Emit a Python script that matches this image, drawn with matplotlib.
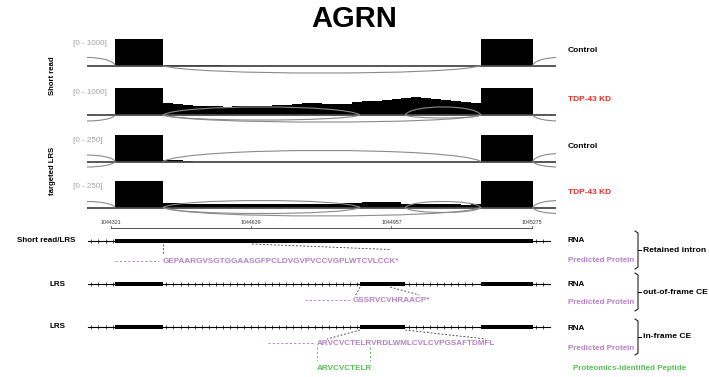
import numpy as np
import matplotlib
matplotlib.use("Agg")
import matplotlib.pyplot as plt
from matplotlib.path import Path
from matplotlib.patches import PathPatch, Rectangle

plt.rcParams['font.family'] = ['Liberation Sans', 'DejaVu Sans']

W, H = 709, 377
fig = plt.figure(figsize=(W / 100, H / 100), dpi=100)

# ---------------- data ----------------
gene = "AGRN"
view_start, view_end = 1044267, 1045330
tx_start, tx_end = 1044269, 1045317
exon1 = (1044331, 1044439)
cryptic_exon = (1044886, 1044988)
exon2 = (1045160, 1045277)
ruler_ticks = [1044321, 1044639, 1044957, 1045275]

track_names = ["Control", "TDP-43 KD", "Control", "TDP-43 KD"]
track_colors = ["black", "#ee2a2a", "black", "#ee2a2a"]
track_ranges = [1000, 1000, 250, 250]
track_groups = ["Short read", "targeted LRS"]
exon_cov = [1000, 1000, 250, 250]

# intron coverage (32 equal bins between exon1 end and exon2 start)
intron_sr_ctrl = [22, 16, 12, 8, 6, 4, 0, 0, 0, 0, 0, 0, 0, 0, 0, 0,
                  0, 0, 0, 0, 0, 0, 0, 0, 0, 0, 0, 0, 0, 0, 0, 0]
intron_sr_kd = [440, 400, 370, 345, 330, 320, 305, 320, 335, 325, 340, 355,
                375, 410, 440, 430, 415, 400, 410, 470, 500, 525, 545, 570,
                625, 655, 640, 600, 565, 520, 480, 450]
intron_lrs_ctrl = [14, 10, 6, 0, 0, 0, 0, 0, 0, 0, 0, 0, 0, 0, 0, 0,
                   0, 0, 0, 0, 0, 0, 0, 0, 0, 0, 0, 0, 0, 0, 0, 0]
intron_lrs_kd = [40, 38, 36, 35, 34, 35, 33, 32, 34, 35, 33, 32, 33, 34, 36, 35,
                 34, 36, 38, 40, 50, 52, 50, 48, 36, 33, 31, 30, 30, 29, 28, 30]
intron_cov = [intron_sr_ctrl, intron_sr_kd, intron_lrs_ctrl, intron_lrs_kd]

# splice junctions: (donor, acceptor, arc height in track units; negative = below)
up_junc = 1044200
down_junc = 1045400
junctions = [
    [(up_junc, exon1[0], 300), (exon1[1], exon2[0], -280), (exon2[1], down_junc, 300)],
    [(up_junc, exon1[0], -220), (exon1[1], cryptic_exon[0], 296),
     (exon1[1], cryptic_exon[0], -185), (cryptic_exon[1], exon2[0], 296),
     (cryptic_exon[1], exon2[0], -110), (exon1[1], exon2[0], -260),
     (exon2[1], down_junc, -220)],
    [(up_junc, exon1[0], 61), (up_junc, exon1[0], -52), (exon1[1], exon2[0], 104),
     (exon2[1], down_junc, 75), (exon2[1], down_junc, -52)],
    [(up_junc, exon1[0], 57), (exon1[1], cryptic_exon[0], 66),
     (exon1[1], cryptic_exon[0], -57), (cryptic_exon[1], exon2[0], 57),
     (cryptic_exon[1], exon2[0], -47), (exon1[1], exon2[0], -80),
     (exon2[1], down_junc, 66), (exon2[1], down_junc, -57)],
]

protein_ri = "GEPAARGVSGTGGAASGFPCLDVGVPVCCVGPLWTCVLCCK*"
protein_oof = "GSSRVCVHRAACP*"
protein_if = "ARVCVCTELRVRDLWMLCVLCVPGSAFTDMFL"
peptide = "ARVCVCTELR"
row_labels = ["Short read/LRS", "LRS", "LRS"]
row_types = ["Retained intron", "out-of-frame CE", "in-frame CE"]

PURPLE = "#b480c8"
GREEN = "#55c255"


def frac(x, y, w, h):
    """Pixel box (origin top-left) -> figure fraction rect."""
    return [x / W, 1 - (y + h) / H, w / W, h / H]


# full-figure overlay in pixel units for free labels
ov = fig.add_axes([0, 0, 1, 1])
ov.set_xlim(0, W)
ov.set_ylim(H, 0)
ov.axis('off')

ov.text(354, 19, gene, ha='center', va='center', fontsize=21, fontweight='bold')


def draw_arc(ax, s, e, h, color='#8a8a8a', lw=0.8):
    L = e - s
    c = h / 0.75
    verts = [(s, 0), (s + 0.08 * L, c), (e - 0.08 * L, c), (e, 0)]
    codes = [Path.MOVETO, Path.CURVE4, Path.CURVE4, Path.CURVE4]
    ax.add_patch(PathPatch(Path(verts, codes), fill=False, ec=color, lw=lw, zorder=3))


# ---------------- coverage / sashimi tracks ----------------
track_top = [38.5, 87.7, 135, 181]
track_base = [65.5, 115, 161.5, 207.5]
below_px = 16
bins = np.linspace(exon1[1], exon2[0], len(intron_sr_kd) + 1)
for i in range(4):
    top, base = track_top[i], track_base[i]
    hpx = base - top
    rng = track_ranges[i]
    ax = fig.add_axes(frac(87, top, 469, hpx + below_px))
    ax.set_xlim(view_start, view_end)
    ax.set_ylim(-below_px / hpx * rng, rng)
    ax.axis('off')
    edges = np.concatenate([[view_start, exon1[0]], bins, [exon2[1], view_end]])
    vals = np.concatenate([[0, exon_cov[i]], intron_cov[i], [exon_cov[i], 0]])
    ax.stairs(vals, edges, fill=True, color='black', baseline=0, zorder=2)
    ax.axhline(0, color='#4a4a4a', lw=1.3, zorder=2.5)
    for s, e, h in junctions[i]:
        draw_arc(ax, s, e, h)
    ov.text(73, top + 5, f"[0 - {rng}]", ha='left', va='center', fontsize=5.8,
            color='#a0a0a0')
    ov.text(568, top + 12, track_names[i], ha='left', va='center', fontsize=6,
            fontweight='bold', color=track_colors[i])

ov.text(53, 76, track_groups[0], rotation=90, ha='center', va='center',
        fontsize=5.6, fontweight='bold')
ov.text(53, 171, track_groups[1], rotation=90, ha='center', va='center',
        fontsize=5.6, fontweight='bold')

# ---------------- transcript models ----------------
gx = fig.add_axes(frac(87, 215, 469, 162))
gx.set_xlim(view_start, view_end)
gx.set_ylim(377, 215)
gx.axis('off')

# ruler
gx.plot([ruler_ticks[0], ruler_ticks[-1]], [228, 228], color='#555555', lw=0.7)
for t in ruler_ticks:
    gx.plot([t, t], [228, 225.5], color='#555555', lw=0.6)
    gx.text(t, 224.5, str(t), ha='center', va='bottom', fontsize=3.8, color='#333333')


def draw_transcript(y, blocks):
    gx.plot([tx_start, tx_end], [y, y], color='black', lw=0.8, zorder=2)
    for s, e in blocks:
        gx.add_patch(Rectangle((s, y - 2.2), e - s, 4.4, color='black', lw=0, zorder=3))
    gaps = [(tx_start, blocks[0][0])] + \
        [(blocks[k][1], blocks[k + 1][0]) for k in range(len(blocks) - 1)] + \
        [(blocks[-1][1], tx_end)]
    for s, e in gaps:
        pos = np.arange(s + 8, e - 4, 16)
        gx.vlines(pos, y - 1.8, y + 1.8, color='black', lw=0.5, zorder=2)


dash = dict(color='#333333', lw=0.6, ls=(0, (2.2, 2.2)))
pdash = dict(color=PURPLE, lw=0.7, ls=(0, (2.2, 2.2)))
gdash = dict(color=GREEN, lw=0.7, ls=(0, (2.2, 2.2)))
ptext = dict(color=PURPLE, fontsize=5.9, fontweight='bold', ha='left', va='center')

# row 1: retained intron
y1 = 241
draw_transcript(y1, [(exon1[0], exon2[1])])
gx.plot([exon1[1], exon1[1]], [244, 255], **dash)
gx.plot([1044641, 1044954], [244, 249.5], **dash)
gx.plot([1044330, 1044430], [261, 261], **pdash)
gx.text(exon1[1], 261, protein_ri, **ptext)

# row 2: out-of-frame cryptic exon
y2 = 284
draw_transcript(y2, [exon1, cryptic_exon, exon2])
gx.plot([cryptic_exon[0], 1044876], [287, 295], **dash)
gx.plot([1044954, 1045020], [287, 295], **dash)
gx.plot([1044761, 1044862], [300, 300], **pdash)
gx.text(1044870, 300, protein_oof, **ptext)

# row 3: in-frame cryptic exon
y3 = 327
draw_transcript(y3, [exon1, cryptic_exon, exon2])
gx.plot([cryptic_exon[0], 1044811], [330, 339], **dash)
gx.plot([cryptic_exon[1], 1045171], [330, 339], **dash)
gx.plot([1044677, 1044779], [343, 343], **pdash)
gx.text(1044788, 343, protein_if, **ptext)
gx.plot([1044788, 1044788], [347, 361], **gdash)
gx.plot([1044908, 1044908], [347, 361], **gdash)
gx.text(1044788, 368, peptide, color=GREEN, fontsize=5.9, fontweight='bold',
        ha='left', va='center')

# left row labels
ov.text(17, y1, row_labels[0], ha='left', va='center', fontsize=5.8, fontweight='bold')
ov.text(50, y2, row_labels[1], ha='left', va='center', fontsize=5.8, fontweight='bold')
ov.text(50, y3, row_labels[2], ha='left', va='center', fontsize=5.8, fontweight='bold')

# right legend with brackets
for (y_rna, y_pp, b0, b1, lab) in [(241, 261, 231, 269, row_types[0]),
                                   (284, 303, 273, 311, row_types[1]),
                                   (328, 348, 319, 355, row_types[2])]:
    ov.text(568, y_rna, "RNA", ha='left', va='center', fontsize=5.8, fontweight='bold')
    ov.text(568, y_pp, "Predicted Protein", ha='left', va='center', fontsize=5.8,
            fontweight='bold', color=PURPLE)
    bx = 638
    ov.plot([bx - 3, bx, bx, bx - 3], [b0, b0 + 2, b1 - 2, b1], color='black', lw=0.7)
    mid = (b0 + b1) / 2
    ov.plot([bx, bx + 3], [mid, mid], color='black', lw=0.7)
    ov.text(643, mid, lab, ha='left', va='center', fontsize=6.1, fontweight='bold')

ov.text(573, 368, "Proteomics-identified Peptide", ha='left', va='center',
        fontsize=5.8, fontweight='bold', color=GREEN)

fig.savefig("out.png", dpi=100)
